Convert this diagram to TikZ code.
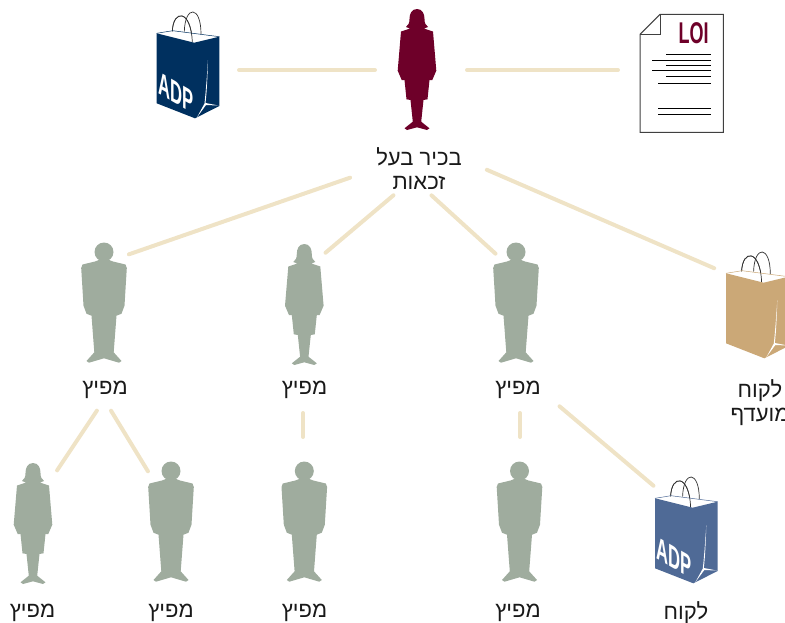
\documentclass[tikz,border=0pt]{standalone}
\usepackage{fontspec}
\usepackage{tikz}
\usetikzlibrary{positioning}
\setmainfont{Liberation Sans}
\newfontfamily\hebfont[Script=Hebrew]{Liberation Sans}
\TeXXeTstate=1

\definecolor{bossred}{HTML}{6E0029}
\definecolor{sage}{HTML}{9FAC9E}
\definecolor{linkcream}{HTML}{EFE3C6}
\definecolor{navybag}{HTML}{00305F}
\definecolor{tanbag}{HTML}{CBA877}
\definecolor{bluebag}{HTML}{4F6A96}

\newcommand{\heb}[1]{\beginR #1\endR}

\tikzset{
    link/.style={draw=linkcream, line width=4pt, line cap=round, shorten <=2pt, shorten >=2pt},
    figbox/.style={inner sep=0pt, outer sep=0pt, minimum width=44pt, minimum height=122pt},
    caption/.style={font=\hebfont\fontsize{22}{24}\selectfont, text=black!90, align=center, inner sep=0pt},
    adpmark/.style={font=\bfseries\fontsize{32}{32}\selectfont, text=white, inner sep=0pt, xscale=.52, yslant=-.3},
    pics/man/.style={code={
        \fill[#1] (0,-51) circle (9.5pt);
        \fill[#1] (0,-45) -- (9,-41.5) -- (21.5,-38.5) -- (22.8,-35) -- (20.5,2.7) -- (17.5,10.7) -- (12.5,12.7)
            -- (9.7,49.3) -- (17.5,58) -- (15,59.7) -- (0,55.3) -- (-15,59.7) -- (-17.5,58) -- (-9.7,49.3)
            -- (-12.5,12.7) -- (-17.5,10.7) -- (-20.5,2.7) -- (-22.8,-35) -- (-21.5,-38.5) -- (-9,-41.5) -- cycle;
    }},
    pics/woman/.style={code={
        \fill[#1] (0,-61) .. controls (5.5,-61) and (7.5,-56) .. (7.5,-51) .. controls (7.5,-47) and (8.5,-45) .. (11,-43)
            -- (7,-41.5) -- (16,-38.5) -- (19.3,0.7) -- (15.3,10) -- (12.5,10) -- (10.5,29.3) -- (6.5,30)
            -- (4.2,51.7) -- (12.5,58.3) -- (10,60) -- (0,57.3) -- (-10,60) -- (-12.5,58.3) -- (-4.2,51.7)
            -- (-6.5,30) -- (-10.5,29.3) -- (-12.5,10) -- (-15.3,10) -- (-19.3,0.7) -- (-16,-38.5) -- (-7,-41.5)
            -- (-11,-43) .. controls (-8.5,-45) and (-7.5,-47) .. (-7.5,-51) .. controls (-7.5,-56) and (-5.5,-61) .. (0,-61) -- cycle;
    }},
    pics/bag/.style={code={
        % back handle
        \draw[black!80, line width=.7pt] (-15.7,-43.3) .. controls (-15,-66) and (3,-66) .. (4.3,-33);
        \fill[white] (-31.3,-41.7) -- (-15.3,-44.3) -- (31.3,-38.3) -- (6.3,-32.3) -- cycle;
        \draw[black!80, line width=.7pt] (-3.7,-43.3) .. controls (-3,-70) and (13,-70) .. (13,-41);
        \draw[black!80, line width=.7pt] (-15.7,-43.3) .. controls (-15,-66) and (3,-66) .. (4.3,-33);
        \fill[#1] (-31.3,-41.7) -- (6.3,-32.3) -- (31.3,-38.3) -- (31.3,31) -- (7,43.3) -- (-31.3,28.3) -- cycle;
        \draw[#1, line width=.5pt] (-31.3,-41.7) -- (-15.3,-44.3) -- (31.3,-38.3);
        \fill[white] (20,-15) .. controls (19.5,0) and (19,15) .. (17.5,28) -- (30.5,30.5) -- (18,30) -- (9,42.3) -- (16.5,28.5)
            .. controls (18,15) and (19,0) .. (20,-15) -- cycle;
    }},
    pics/letter/.style={code={
        \draw[black!75, line width=1pt, fill=white] (-41.7,-39) -- (-21.7,-59) -- (41.6,-59) -- (41.6,59) -- (-41.7,59) -- cycle;
        \draw[black!75, line width=1pt] (-21.7,-59) -- (-21.7,-39) -- (-41.7,-39);
        \foreach \xstart/\ypos in {-15.7/-19, -29.7/-13, -15.7/-8, -29.7/-3, -15.7/3, -23.7/10, -23.7/35, -23.7/41}
            \draw[black, line width=.7pt] (\xstart,\ypos) -- (29.3,\ypos);
    }}
}

\begin{document}
\begin{tikzpicture}[x=1pt, y=-1pt]
\useasboundingbox (0,0) rectangle (785,622);

% top row
\node[figbox] (topbag) at (188,75) {};
\node[figbox] (boss) at (417,70) {};
\node[figbox] (loi) at (681.7,73.3) {};
\pic at (topbag.center) {bag=navybag};
\pic at (boss.center) {woman=bossred};
\pic at (loi.center) {letter};
\node[adpmark] (topmark) at ([shift={(-12,18)}]topbag.center) {ADP};
\node[font=\bfseries\fontsize{30}{30}\selectfont, text=bossred, inner sep=0pt, xscale=.6] (loimark) at ([shift={(12,-40.5)}]loi.center) {LOI};
\node[caption] (bosslabel) at (419,168.5) {\heb{בכיר בעל}\\\heb{זכאות}};

% middle row
\node[figbox] (midmana) at (104,303) {};
\node[figbox] (midwoman) at (304.3,305) {};
\node[figbox] (midmanb) at (516,303) {};
\node[figbox] (tanbagbox) at (757.3,315) {};
\pic at (midmana.center) {man=sage};
\pic at (midwoman.center) {woman=sage};
\pic at (midmanb.center) {man=sage};
\pic at (tanbagbox.center) {bag=tanbag};
\node[caption] (midlabela) at (105,390) {\heb{מפיץ}};
\node[caption] (midlabelb) at (304.5,390) {\heb{מפיץ}};
\node[caption] (midlabelc) at (518,390) {\heb{מפיץ}};
\node[caption] (tanlabel) at (760,403) {\heb{לקוח}\\\heb{מועדף}};

% bottom row
\node[figbox] (lowwoman) at (33,524) {};
\node[figbox] (lowmana) at (171,522) {};
\node[figbox] (lowmanb) at (304.3,522) {};
\node[figbox] (lowmanc) at (519.5,522) {};
\node[figbox] (lowbag) at (686.3,540) {};
\pic at (lowwoman.center) {woman=sage};
\pic at (lowmana.center) {man=sage};
\pic at (lowmanb.center) {man=sage};
\pic at (lowmanc.center) {man=sage};
\pic at (lowbag.center) {bag=bluebag};
\node[adpmark] (lowmark) at ([shift={(-12,18)}]lowbag.center) {ADP};
\node[caption] (lowlabela) at (32.5,612.5) {\heb{מפיץ}};
\node[caption] (lowlabelb) at (171,612.5) {\heb{מפיץ}};
\node[caption] (lowlabelc) at (304.5,612.5) {\heb{מפיץ}};
\node[caption] (lowlabeld) at (518,612.5) {\heb{מפיץ}};
\node[caption] (lowlabele) at (686,612.5) {\heb{לקוח}};

% connectors
\draw[link] ([shift={(49,-5)}]topbag.center) -- ([shift={(-40,0)}]boss.center);
\draw[link] ([shift={(48,0)}]boss.center) -- ([shift={(-61.7,-3.3)}]loi.center);
\draw[link] ([shift={(-67,8.5)}]bosslabel.center) -- ([shift={(23,-48)}]midmana.center);
\draw[link] ([shift={(-24,25.5)}]bosslabel.center) -- ([shift={(19.7,-51)}]midwoman.center);
\draw[link] ([shift={(11,25.5)}]bosslabel.center) -- ([shift={(-19,-48)}]midmanb.center);
\draw[link] ([shift={(66,.5)}]bosslabel.center) -- ([shift={(-41.3,-46)}]tanbagbox.center);
\draw[link] ([shift={(-7,19)}]midlabela.center) -- ([shift={(23,-52)}]lowwoman.center);
\draw[link] ([shift={(5,19)}]midlabela.center) -- ([shift={(-22,-49)}]lowmana.center);
\draw[link] ([shift={(-1.5,21)}]midlabelb.center) -- ([shift={(-1.3,-83)}]lowmanb.center);
\draw[link] ([shift={(2,21)}]midlabelc.center) -- ([shift={(.5,-83)}]lowmanc.center);
\draw[link] ([shift={(40,15)}]midlabelc.center) -- ([shift={(-31.3,-53)}]lowbag.center);
\end{tikzpicture}
\end{document}
